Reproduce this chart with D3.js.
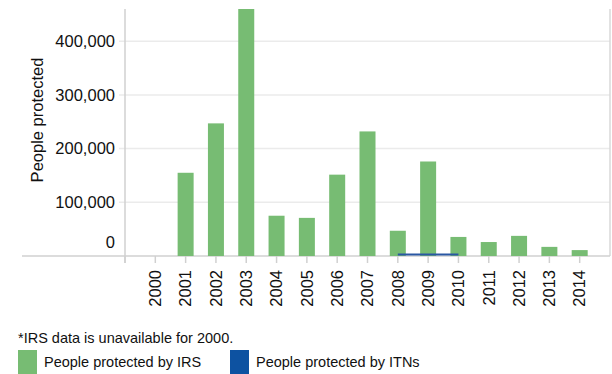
<!DOCTYPE html>
<html>
<head>
<meta charset="utf-8">
<script src="https://cdn.jsdelivr.net/npm/d3@7"></script>
<style>
  body { margin: 0; background: #fff; }
  svg { font-family: "Liberation Sans", Arial, sans-serif; display: block; }
</style>
</head>
<body>
<svg width="612" height="374"></svg>
<script>
// data
var years = [2000, 2001, 2002, 2003, 2004, 2005, 2006, 2007, 2008, 2009, 2010, 2011, 2012, 2013, 2014];
var irs = [null, 155000, 247000, 460000, 75000, 71000, 151500, 232000, 47000, 176000, 35500, 26000, 37500, 17000, 11000];
var itnYears = [2008, 2009, 2010];
var itn = [3000, 3000, 3000];
var yTicks = [0, 100000, 200000, 300000, 400000];

var svg = d3.select("svg");
var plotL = 125, plotR = 610, plotT = 9, plotB = 256;

var x = d3.scaleLinear().domain([1999, 2015]).range([plotL, plotR]);
var y = d3.scaleLinear().domain([0, 460000]).range([plotB, plotT]);

var green = "#77bc73", blue = "#0d52a1";
var fmt = d3.format(",");

// grid
svg.append("g")
  .selectAll("line")
  .data(yTicks.filter(function(d) { return d > 0; }))
  .enter().append("line")
    .attr("x1", plotL - 6).attr("x2", plotR)
    .attr("y1", function(d) { return y(d); })
    .attr("y2", function(d) { return y(d); })
    .attr("stroke", "#ebebeb")
    .attr("stroke-width", 1.5);

// y labels
svg.append("g")
  .attr("font-size", 16.5)
  .attr("text-anchor", "end")
  .selectAll("text")
  .data(yTicks)
  .enter().append("text")
    .attr("x", plotL - 10)
    .attr("y", function(d) { return d === 0 ? y(d) - 8 : y(d); })
    .attr("dy", function(d) { return d === 0 ? "0" : "0.35em"; })
    .attr("fill", "#111")
    .text(fmt);

// axis frame
svg.append("line").attr("x1", plotL).attr("x2", plotL).attr("y1", plotT).attr("y2", plotB + 7)
  .attr("stroke", "#d0d0d0").attr("stroke-width", 1.5);
svg.append("line").attr("x1", plotR).attr("x2", plotR).attr("y1", plotT).attr("y2", plotB)
  .attr("stroke", "#d8d8d8").attr("stroke-width", 1.5);
svg.append("line").attr("x1", 22).attr("x2", plotR).attr("y1", plotB).attr("y2", plotB)
  .attr("stroke", "#d0d0d0").attr("stroke-width", 1.5);

// x ticks
svg.append("g")
  .selectAll("line")
  .data(d3.range(1999, 2015))
  .enter().append("line")
    .attr("x1", function(d) { return x(d); })
    .attr("x2", function(d) { return x(d); })
    .attr("y1", plotB).attr("y2", plotB + 7)
    .attr("stroke", "#d0d0d0")
    .attr("stroke-width", 1.5);

// bars
svg.append("g")
  .selectAll("rect")
  .data(years.map(function(d, i) { return {year: d, v: irs[i]}; }).filter(function(d) { return d.v != null; }))
  .enter().append("rect")
    .attr("x", function(d) { return x(d.year) - 8; })
    .attr("width", 16)
    .attr("y", function(d) { return y(d.v); })
    .attr("height", function(d) { return plotB - y(d.v); })
    .attr("fill", green);

// ITN line
var line = d3.line()
  .x(function(d, i) { return x(itnYears[i]); })
  .y(function(d) { return y(d); });
svg.append("path")
  .attr("d", line(itn))
  .attr("fill", "none")
  .attr("stroke", "#2a58a4")
  .attr("stroke-width", 2);

// year labels
svg.append("g")
  .attr("font-size", 16.5)
  .attr("text-anchor", "end")
  .selectAll("text")
  .data(years)
  .enter().append("text")
    .attr("transform", function(d) { return "translate(" + x(d) + "," + 270 + ") rotate(-90)"; })
    .attr("dy", "0.35em")
    .attr("fill", "#111")
    .text(function(d) { return d; });

// y title
svg.append("text")
  .attr("transform", "translate(37,120) rotate(-90)")
  .attr("text-anchor", "middle")
  .attr("dy", "0.35em")
  .attr("font-size", 16.5)
  .attr("fill", "#111")
  .text("People protected");

// footnote
svg.append("text")
  .attr("x", 18).attr("y", 343)
  .attr("font-size", 14.5)
  .attr("fill", "#111")
  .text("*IRS data is unavailable for 2000.");

// legend
var legend = svg.append("g")
  .attr("font-size", 14.5)
  .selectAll("g")
  .data([{label: "People protected by IRS", color: green, x: 18},
         {label: "People protected by ITNs", color: blue, x: 230}])
  .enter().append("g")
    .attr("transform", function(d) { return "translate(" + d.x + ",350)"; });

legend.append("rect")
  .attr("width", 19)
  .attr("height", 24)
  .attr("fill", function(d) { return d.color; });

legend.append("text")
  .attr("x", 26)
  .attr("y", 17)
  .attr("fill", "#111")
  .text(function(d) { return d.label; });
</script>
</body>
</html>
